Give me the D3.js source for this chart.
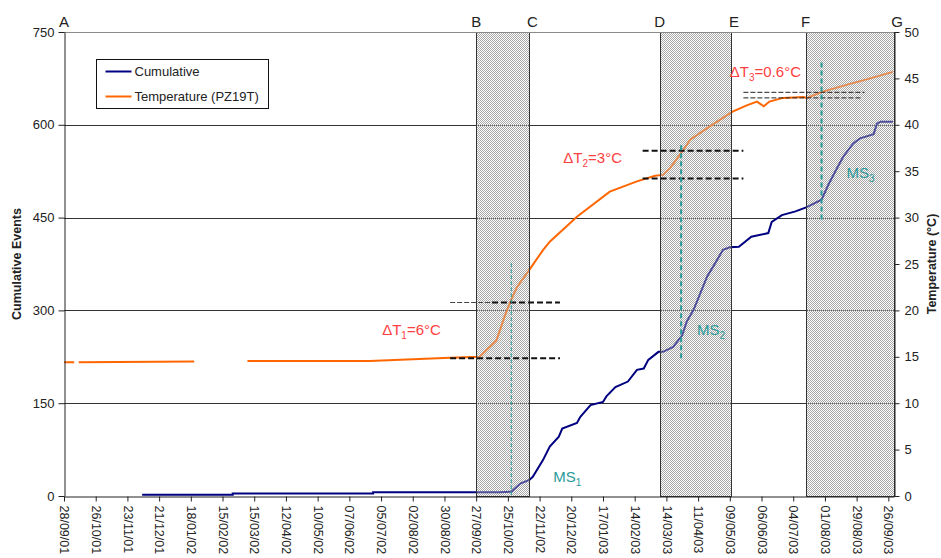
<!DOCTYPE html>
<html>
<head>
<meta charset="utf-8">
<script src="https://cdn.jsdelivr.net/npm/d3@7"></script>
<style>
  html, body { margin: 0; padding: 0; background: #fff; }
  svg { display: block; font-family: "Liberation Sans", Arial, sans-serif; }
</style>
</head>
<body>
<svg id="chart" width="941" height="558"></svg>
<script>
// ---- data ----------------------------------------------------------------
// x-axis ticks every 28 days
const xTickDates = [
  "2001-09-28","2001-10-26","2001-11-23","2001-12-21","2002-01-18","2002-02-15",
  "2002-03-15","2002-04-12","2002-05-10","2002-06-07","2002-07-05","2002-08-02",
  "2002-08-30","2002-09-27","2002-10-25","2002-11-22","2002-12-20","2003-01-17",
  "2003-02-14","2003-03-14","2003-04-11","2003-05-09","2003-06-06","2003-07-04",
  "2003-08-01","2003-08-29","2003-09-26"
];
const xDomain = ["2001-09-28", "2003-10-01"];

// cumulative events (left axis)
const cumDates = [
  "2001-12-06","2002-02-24","2002-02-24","2002-06-28","2002-06-28","2002-10-18",
  "2002-10-28","2002-11-05","2002-11-13","2002-11-16","2002-11-25","2002-12-01",
  "2002-12-09","2002-12-12","2002-12-25","2002-12-28","2003-01-06","2003-01-17",
  "2003-01-20","2003-01-28","2003-02-08","2003-02-16","2003-02-22","2003-02-26",
  "2003-03-07","2003-03-11","2003-03-20","2003-03-28","2003-04-01","2003-04-07",
  "2003-04-19","2003-04-26","2003-05-03","2003-05-09","2003-05-17","2003-05-28",
  "2003-06-12","2003-06-15","2003-06-24","2003-07-06","2003-07-16","2003-07-29",
  "2003-08-04","2003-08-10","2003-08-17","2003-08-26","2003-09-01","2003-09-13",
  "2003-09-16","2003-09-19","2003-09-30"
];
const cumValues = [
  2, 2, 4, 4, 6, 6,
  7, 20, 26, 31, 58, 80,
  96, 109, 118, 128, 147, 152,
  161, 176, 185, 204, 206, 220,
  233, 233, 241, 260, 282, 301,
  355, 376, 398, 402, 403, 419,
  425, 443, 454, 460, 467, 479,
  503, 524, 548, 570, 578, 585,
  602, 605, 605
];

// temperature PZ19T (right axis); null marks a gap in the record
const tempDates = [
  "2001-09-28","2001-10-07","2001-10-08","2001-10-11","2002-01-21","2002-01-22",
  "2002-03-09","2002-06-25","2002-09-04","2002-09-30","2002-10-15","2002-10-22",
  "2002-10-27","2002-11-02","2002-11-12","2002-11-25","2002-12-01","2002-12-25",
  "2003-01-23","2003-02-16","2003-03-04","2003-03-11","2003-03-17","2003-03-28",
  "2003-04-04","2003-04-21","2003-05-11","2003-05-24","2003-06-02","2003-06-08",
  "2003-06-13","2003-06-25","2003-07-13","2003-07-16","2003-07-31","2003-08-20",
  "2003-09-10","2003-09-30"
];
const tempValues = [
  14.4, 14.4, null, 14.4, 14.5, null,
  14.55, 14.55, 14.9, 15.0, 16.8, 19.3,
  20.9, 22.5, 24.2, 26.5, 27.4, 30.1,
  32.8, 33.9, 34.5, 34.6, 35.3, 37.1,
  38.4, 39.8, 41.4, 42.1, 42.5, 42.0,
  42.5, 42.9, 43.0, 42.9, 43.6, 44.3,
  45.0, 45.7
];

// stage boundaries
const stageNames = ["A","B","C","D","E","F","G"];
const stageDates = ["2001-09-28","2002-09-27","2002-11-13","2003-03-08","2003-05-10","2003-07-15","2003-10-01"];
// shaded periods: B-C, D-E, F-G
const shadedStart = [1, 3, 5];
const shadedEnd   = [2, 4, 6];

// temperature steps
const deltaIndex  = ["1","2","3"];
const deltaValues = [6, 3, 0.6];
const deltaBase   = [14.85, 34.2, 42.9];
const deltaFrom   = ["2002-09-04","2003-02-21","2003-05-21"];
const deltaTo     = ["2002-12-10","2003-05-21","2003-09-05"];
const deltaLabelDate = ["2002-07-06","2002-12-13","2003-05-09"];
const deltaLabelTemp = [17.35, 35.9, 45.15];

// main shocks
const msIndex = ["1","2","3"];
const msDates = ["2002-10-28","2003-03-27","2003-07-29"];
const msTop   = [25.1, 37.8, 46.7];
const msBottom= [0, 14.7, 29.7];
const msLabelDate = ["2002-12-04","2003-04-10","2003-08-20"];
const msLabelTemp = [1.5, 17.35, 34.3];

const leftTicks  = [0, 150, 300, 450, 600, 750];
const rightTicks = [0, 5, 10, 15, 20, 25, 30, 35, 40, 45, 50];

// ---- drawing --------------------------------------------------------------
const parse = d3.utcParse("%Y-%m-%d");
const fmt = d3.utcFormat("%d/%m/%y");
const svg = d3.select("#chart");
const m = { left: 64, right: 894, top: 32, bottom: 496 };

const x = d3.scaleUtc().domain(xDomain.map(parse)).range([m.left, m.right]);
const yL = d3.scaleLinear().domain([0, 750]).range([m.bottom, m.top]);
const yR = d3.scaleLinear().domain([0, 50]).range([m.bottom, m.top]);

const textCol = "#222";
const orange = "#ff6600", navy = "#000080", teal = "#2a9a9a", red = "#ff4040";

// checkered fills for the shaded periods: a base under the curves, a light veil over them
const defs = svg.append("defs");
function checker(id, gray, grayOpacity, whiteOpacity) {
  const p = defs.append("pattern").attr("id", id)
    .attr("width", 2).attr("height", 2).attr("patternUnits", "userSpaceOnUse");
  [[0, 0], [1, 1]].forEach(([a, b]) => p.append("rect").attr("x", a).attr("y", b)
    .attr("width", 1).attr("height", 1).attr("fill", gray).attr("fill-opacity", grayOpacity));
  if (whiteOpacity > 0) [[1, 0], [0, 1]].forEach(([a, b]) => p.append("rect").attr("x", a).attr("y", b)
    .attr("width", 1).attr("height", 1).attr("fill", "#fff").attr("fill-opacity", whiteOpacity));
}
checker("dotsBase", "#a8a8a8", 1, 0);
checker("dotsVeil", "#a8a8a8", 0.55, 0.25);

const periods = shadedStart.map((s, i) => {
  const x0 = Math.round(x(parse(stageDates[s])));
  const x1 = Math.round(x(parse(stageDates[shadedEnd[i]])));
  return { x0, x1 };
});

// horizontal gridlines
svg.append("g").selectAll("line").data(leftTicks.filter(v => v > 0))
  .join("line")
  .attr("x1", m.left).attr("x2", m.right)
  .attr("y1", d => Math.round(yL(d)) + 0.5).attr("y2", d => Math.round(yL(d)) + 0.5)
  .attr("stroke", d => d === 750 ? "#8a8a8a" : "#333").attr("stroke-width", 1);

// shaded periods, base layer
svg.append("g").selectAll("rect").data(periods).join("rect")
  .attr("x", d => d.x0).attr("y", m.top)
  .attr("width", d => d.x1 - d.x0).attr("height", m.bottom - m.top)
  .attr("fill", "url(#dotsBase)");

// series
const cum = cumDates.map((d, i) => ({ date: parse(d), v: cumValues[i] }));
const temp = tempDates.map((d, i) => ({ date: parse(d), v: tempValues[i] }));

svg.append("path").datum(temp)
  .attr("fill", "none").attr("stroke", orange).attr("stroke-width", 2)
  .attr("d", d3.line().defined(d => d.v !== null).x(d => x(d.date)).y(d => yR(d.v)));

svg.append("path").datum(cum)
  .attr("fill", "none").attr("stroke", navy).attr("stroke-width", 2)
  .attr("d", d3.line().x(d => x(d.date)).y(d => yL(d.v)));

// shaded periods, veil and border
svg.append("g").selectAll("rect").data(periods).join("rect")
  .attr("x", d => d.x0 + 0.5).attr("y", m.top + 0.5)
  .attr("width", d => d.x1 - d.x0).attr("height", m.bottom - m.top)
  .attr("fill", "url(#dotsVeil)").attr("stroke", "#333").attr("stroke-width", 1);

// stage letters
svg.append("g").selectAll("text").data(stageNames).join("text")
  .attr("x", (d, i) => x(parse(stageDates[i])) + (d === "C" || d === "E" || d === "G" ? 3 : 0))
  .attr("y", 27)
  .attr("text-anchor", "middle").attr("font-size", 15).attr("fill", textCol)
  .text(d => d);

// temperature step markers
deltaIndex.forEach((k, i) => {
  const xa = x(parse(deltaFrom[i])), xb = x(parse(deltaTo[i]));
  const lo = yR(deltaBase[i]), hi = yR(deltaBase[i] + deltaValues[i]);
  if (k === "3") {
    [hi, lo].forEach((yy, j) => svg.append("line")
      .attr("x1", xa).attr("x2", j === 0 ? xb : xb - 4).attr("y1", yy).attr("y2", yy)
      .attr("stroke", "#222").attr("stroke-width", 1).attr("stroke-dasharray", "5,2"));
  } else if (k === "1") {
    const xm = x(parse("2002-10-11"));
    svg.append("line").attr("x1", xa).attr("x2", xm).attr("y1", hi).attr("y2", hi)
      .attr("stroke", "#444").attr("stroke-width", 1).attr("stroke-dasharray", "5,2");
    svg.append("line").attr("x1", xm).attr("x2", xb).attr("y1", hi).attr("y2", hi)
      .attr("stroke", "#111").attr("stroke-width", 2).attr("stroke-dasharray", "6,3");
    svg.append("line").attr("x1", xa).attr("x2", xb).attr("y1", lo).attr("y2", lo)
      .attr("stroke", "#111").attr("stroke-width", 2).attr("stroke-dasharray", "6,3");
  } else {
    [hi, lo].forEach(yy => svg.append("line")
      .attr("x1", xa).attr("x2", xb).attr("y1", yy).attr("y2", yy)
      .attr("stroke", "#111").attr("stroke-width", 2).attr("stroke-dasharray", "6,3"));
  }
  const t = svg.append("text")
    .attr("x", x(parse(deltaLabelDate[i]))).attr("y", yR(deltaLabelTemp[i]))
    .attr("font-size", 15).attr("fill", red);
  t.append("tspan").text("\u0394T");
  t.append("tspan").attr("dy", 4).attr("font-size", 10).text(k);
  t.append("tspan").attr("dy", -4).text("=" + deltaValues[i] + "\u00B0C");
});

// main shock markers
msIndex.forEach((k, i) => {
  const xx = x(parse(msDates[i]));
  svg.append("line").attr("x1", xx).attr("x2", xx)
    .attr("y1", yR(msTop[i])).attr("y2", yR(msBottom[i]))
    .attr("stroke", teal).attr("stroke-width", k === "1" ? 1 : 2)
    .attr("stroke-dasharray", k === "1" ? "4,2" : "5,3");
  const t = svg.append("text")
    .attr("x", x(parse(msLabelDate[i]))).attr("y", yR(msLabelTemp[i]))
    .attr("font-size", 15).attr("fill", teal);
  t.append("tspan").text("MS");
  t.append("tspan").attr("dy", 4).attr("font-size", 10).text(k);
});

// top border
svg.append("line").attr("x1", m.left).attr("x2", m.right)
  .attr("y1", m.top + 0.5).attr("y2", m.top + 0.5).attr("stroke", "#8a8a8a");

// axes
const axisStyle = g => {
  g.selectAll(".domain").attr("stroke", "#222");
  g.selectAll(".tick line").attr("stroke", "#222");
  g.selectAll("text").attr("fill", textCol).attr("font-family", "Liberation Sans, Arial, sans-serif");
};

svg.append("g").attr("transform", `translate(${m.left + 0.5},0)`)
  .call(d3.axisLeft(yL).tickValues(leftTicks).tickSize(6).tickSizeOuter(0).tickPadding(4))
  .call(axisStyle)
  .call(g => g.selectAll("text").attr("font-size", 13));

svg.append("g").attr("transform", `translate(${m.right + 0.5},0)`)
  .call(d3.axisRight(yR).tickValues(rightTicks).tickSize(5).tickSizeOuter(0).tickPadding(5))
  .call(axisStyle)
  .call(g => g.selectAll("text").attr("font-size", 13));

svg.append("g").attr("transform", `translate(0,${m.bottom + 0.5})`)
  .call(d3.axisBottom(x).tickValues(xTickDates.map(parse)).tickFormat(fmt).tickSize(5).tickSizeOuter(0))
  .call(axisStyle)
  .call(g => g.selectAll("text")
    .attr("font-size", 12.5)
    .attr("text-anchor", "start")
    .attr("dy", "0.35em")
    .attr("transform", "translate(0,9) rotate(90)")
    .attr("y", 0).attr("x", 0));

// axis titles
svg.append("text").attr("transform", `translate(21,${(m.top + m.bottom) / 2}) rotate(-90)`)
  .attr("text-anchor", "middle").attr("font-size", 12.5).attr("font-weight", "bold")
  .attr("fill", textCol).text("Cumulative Events");
svg.append("text").attr("transform", `translate(936,${(m.top + m.bottom) / 2}) rotate(-90)`)
  .attr("text-anchor", "middle").attr("font-size", 12.5).attr("font-weight", "bold")
  .attr("fill", textCol).text("Temperature (\u00B0C)");

// legend
const lg = svg.append("g").attr("transform", "translate(96.5,59.5)");
lg.append("rect").attr("width", 172).attr("height", 49).attr("fill", "#fff").attr("stroke", "#111");
const legendItems = [["Cumulative", navy], ["Temperature (PZ19T)", orange]];
legendItems.forEach(([name, col], i) => {
  const yy = 12 + i * 25;
  lg.append("line").attr("x1", 9).attr("x2", 35).attr("y1", yy).attr("y2", yy)
    .attr("stroke", col).attr("stroke-width", 2);
  lg.append("text").attr("x", 38).attr("y", yy + 4.5).attr("font-size", 13)
    .attr("fill", textCol).text(name);
});
</script>
</body>
</html>
